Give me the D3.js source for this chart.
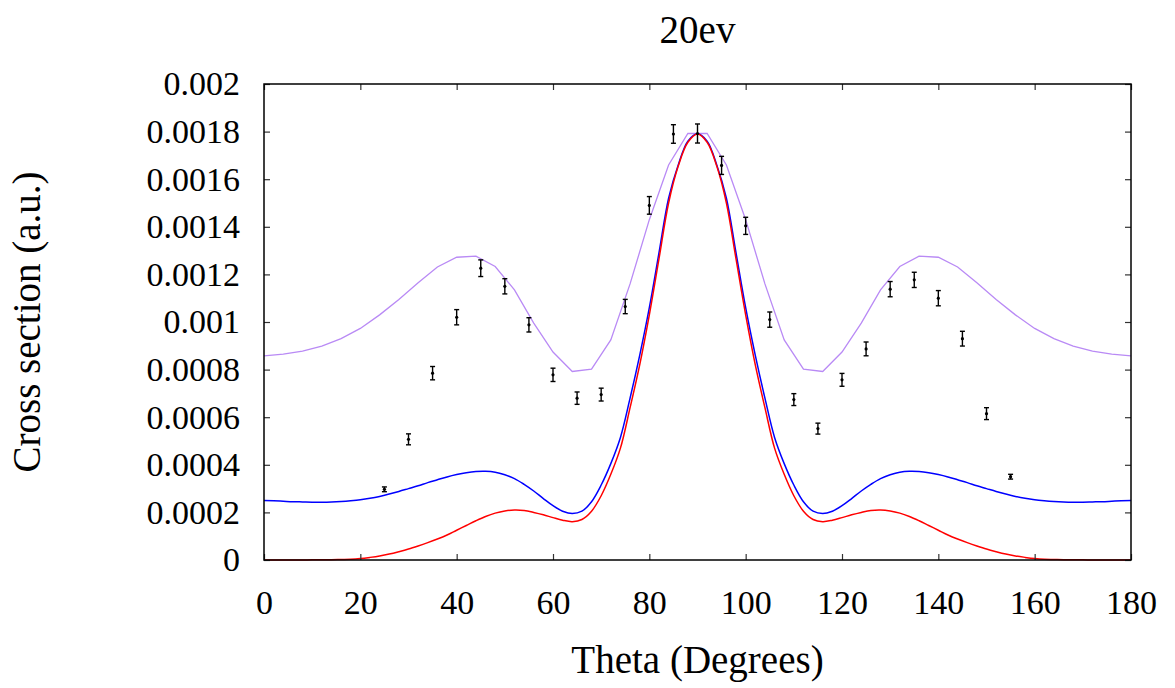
<!DOCTYPE html>
<html>
<head>
<meta charset="utf-8">
<script src="https://cdn.jsdelivr.net/npm/d3@7"></script>
<style>
  body { margin: 0; background: #fff; }
  text { font-family: "Liberation Serif", "DejaVu Serif", serif; fill: #000; }
</style>
</head>
<body>
<div id="chart"></div>
<script>
// measured points (theta, value, error)
var expTheta = [25, 30, 35, 40, 45, 50, 55, 60, 65, 70, 75, 80, 85, 90, 95, 100, 105, 110, 115, 120, 125, 130, 135, 140, 145, 150, 155];
var expValue = [0.000297, 0.000507, 0.000785, 0.00102, 0.001226, 0.00115, 0.000988, 0.000778, 0.00068, 0.000695, 0.001065, 0.00149, 0.00179, 0.001792, 0.001658, 0.001404, 0.00101, 0.000674, 0.000552, 0.000757, 0.000887, 0.001138, 0.001177, 0.0011, 0.00093, 0.000615, 0.00035];
var expError = [0.00001, 0.000023, 0.000028, 0.000032, 0.000035, 0.000032, 0.00003, 0.000028, 0.000026, 0.000027, 0.00003, 0.000037, 0.000039, 0.00004, 0.000038, 0.000036, 0.000032, 0.000025, 0.000023, 0.000027, 0.000029, 0.000032, 0.000032, 0.000032, 0.000031, 0.000025, 0.00001];

// purple curve, 4 degree steps
var purpleTheta = [0, 4, 8, 12, 16, 20, 24, 28, 32, 36, 40, 44, 48, 52, 56, 60, 64, 68, 72, 76, 80, 84, 88,
  92, 96, 100, 104, 108, 112, 116, 120, 124, 128, 132, 136, 140, 144, 148, 152, 156, 160, 164, 168, 172, 176, 180];
var purpleValue = [0.000858, 0.000865, 0.000878, 0.000899, 0.00093, 0.000973, 0.00103, 0.001095, 0.001165, 0.001231, 0.001272, 0.001277, 0.001233, 0.001135, 0.000995, 0.000874, 0.000792, 0.000802, 0.000925, 0.00116, 0.00143, 0.00166, 0.001792,
  0.001792, 0.00166, 0.00143, 0.00116, 0.000925, 0.000802, 0.000792, 0.000874, 0.000995, 0.001135, 0.001233, 0.001277, 0.001272, 0.001231, 0.001165, 0.001095, 0.00103, 0.000973, 0.00093, 0.000899, 0.000878, 0.000865, 0.000858];

// blue and red curves, 2 degree steps
var curveTheta = [0, 2, 4, 6, 8, 10, 12, 14, 16, 18, 20, 22, 24, 26, 28, 30, 32, 34, 36, 38, 40, 42, 44, 46, 48, 50, 52, 54, 56, 58, 60, 62, 64, 66, 68, 70, 72, 74, 76, 78, 80, 82, 84, 86, 88, 90,
  92, 94, 96, 98, 100, 102, 104, 106, 108, 110, 112, 114, 116, 118, 120, 122, 124, 126, 128, 130, 132, 134, 136, 138, 140, 142, 144, 146, 148, 150, 152, 154, 156, 158, 160, 162, 164, 166, 168, 170, 172, 174, 176, 178, 180];
var blueValue = [0.00025, 0.000249, 0.000247, 0.000245, 0.000244, 0.000243, 0.000243, 0.000244, 0.000246, 0.000249, 0.000253, 0.000259, 0.000267, 0.000277, 0.000288, 0.0003, 0.000312, 0.000325, 0.000337, 0.000349, 0.000359, 0.000367, 0.000372, 0.000373, 0.000369, 0.000358, 0.000342, 0.000318, 0.00029, 0.000258, 0.000228, 0.000205, 0.000195, 0.000205, 0.000245, 0.000315, 0.000405, 0.000515, 0.00068, 0.00086, 0.00106, 0.00129, 0.00152, 0.00166, 0.00176, 0.001791,
  0.00176, 0.00166, 0.00152, 0.00129, 0.00106, 0.00086, 0.00068, 0.000515, 0.000405, 0.000315, 0.000245, 0.000205, 0.000195, 0.000205, 0.000228, 0.000258, 0.00029, 0.000318, 0.000342, 0.000358, 0.000369, 0.000373, 0.000372, 0.000367, 0.000359, 0.000349, 0.000337, 0.000325, 0.000312, 0.0003, 0.000288, 0.000277, 0.000267, 0.000259, 0.000253, 0.000249, 0.000246, 0.000244, 0.000243, 0.000243, 0.000244, 0.000245, 0.000247, 0.000249, 0.00025];
var redValue = [0, 0, 0, 0, 0, 0.000001, 0.000001, 0.000001, 0.000002, 0.000003, 0.000006, 0.000011, 0.000017, 0.000025, 0.000035, 0.000046, 0.000059, 0.000073, 0.000088, 0.000105, 0.000125, 0.000145, 0.000165, 0.000183, 0.000197, 0.000206, 0.00021, 0.000208, 0.0002, 0.00019, 0.000178, 0.000167, 0.000161, 0.00017, 0.000205, 0.00027, 0.00036, 0.00047, 0.00064, 0.00082, 0.00103, 0.001265, 0.0015, 0.001655, 0.001755, 0.00179,
  0.001755, 0.001655, 0.0015, 0.001265, 0.00103, 0.00082, 0.00064, 0.00047, 0.00036, 0.00027, 0.000205, 0.00017, 0.000161, 0.000167, 0.000178, 0.00019, 0.0002, 0.000208, 0.00021, 0.000206, 0.000197, 0.000183, 0.000165, 0.000145, 0.000125, 0.000105, 0.000088, 0.000073, 0.000059, 0.000046, 0.000035, 0.000025, 0.000017, 0.000011, 0.000006, 0.000003, 0.000002, 0.000001, 0.000001, 0.000001, 0, 0, 0, 0, 0];

var xTicks = [0, 20, 40, 60, 80, 100, 120, 140, 160, 180];
var yTicks = [0, 0.0002, 0.0004, 0.0006, 0.0008, 0.001, 0.0012, 0.0014, 0.0016, 0.0018, 0.002];

var width = 1175, height = 688;
var margin = {left: 264, right: 44, top: 84, bottom: 128};
var iw = width - margin.left - margin.right;
var ih = height - margin.top - margin.bottom;
var fs = '34px';     // tick labels
var fsLabel = '39px'; // title and axis titles

var svg = d3.select('#chart')
  .append('svg')
  .attr('width', width)
  .attr('height', height);

var x = d3.scaleLinear().domain([0, 180]).range([margin.left, margin.left + iw]);
var y = d3.scaleLinear().domain([0, 0.002]).range([margin.top + ih, margin.top]);

// curves
var purple = purpleTheta.map(function(t, i){ return [t, purpleValue[i]]; });
var blue = curveTheta.map(function(t, i){ return [t, blueValue[i]]; });
var red = curveTheta.map(function(t, i){ return [t, redValue[i]]; });

var lineLin = d3.line().x(function(d){ return x(d[0]); }).y(function(d){ return y(d[1]); });
var lineSmooth = d3.line().curve(d3.curveCatmullRom).x(function(d){ return x(d[0]); }).y(function(d){ return y(d[1]); });

svg.append('path').datum(purple).attr('d', lineLin)
  .attr('fill', 'none').attr('stroke', '#b98af5').attr('stroke-width', 1.3);
svg.append('path').datum(blue).attr('d', lineSmooth)
  .attr('fill', 'none').attr('stroke', '#0000ff').attr('stroke-width', 1.5);
svg.append('path').datum(red).attr('d', lineSmooth)
  .attr('fill', 'none').attr('stroke', '#ff0000').attr('stroke-width', 1.5);

// error bars
var pts = expTheta.map(function(t, i){ return {t: t, v: expValue[i], e: expError[i]}; });
var g = svg.append('g').attr('stroke', '#000').attr('stroke-width', 1.4);
g.selectAll('line.bar').data(pts).enter().append('line')
  .attr('class', 'bar')
  .attr('x1', function(d){ return x(d.t); }).attr('x2', function(d){ return x(d.t); })
  .attr('y1', function(d){ return y(d.v - d.e); }).attr('y2', function(d){ return y(d.v + d.e); });
g.selectAll('line.capTop').data(pts).enter().append('line')
  .attr('class', 'capTop')
  .attr('x1', function(d){ return x(d.t) - 2.5; }).attr('x2', function(d){ return x(d.t) + 2.5; })
  .attr('y1', function(d){ return y(d.v + d.e); }).attr('y2', function(d){ return y(d.v + d.e); });
g.selectAll('line.capBot').data(pts).enter().append('line')
  .attr('class', 'capBot')
  .attr('x1', function(d){ return x(d.t) - 2.5; }).attr('x2', function(d){ return x(d.t) + 2.5; })
  .attr('y1', function(d){ return y(d.v - d.e); }).attr('y2', function(d){ return y(d.v - d.e); });
svg.selectAll('circle.pt').data(pts).enter().append('circle')
  .attr('class', 'pt')
  .attr('cx', function(d){ return x(d.t); })
  .attr('cy', function(d){ return y(d.v); })
  .attr('r', 1.6)
  .attr('fill', '#000');

// axes, gnuplot style: ticks inside on all sides
var tk = 6;
svg.append('g').attr('transform', 'translate(0,' + (margin.top + ih) + ')')
  .call(d3.axisBottom(x).tickValues(xTicks).tickSize(-tk).tickPadding(30).tickFormat(d3.format('d')))
  .call(function(a){ a.select('.domain').remove(); });
svg.append('g').attr('transform', 'translate(0,' + margin.top + ')')
  .call(d3.axisTop(x).tickValues(xTicks).tickSize(-tk).tickFormat(''))
  .call(function(a){ a.select('.domain').remove(); });
svg.append('g').attr('transform', 'translate(' + margin.left + ',0)')
  .call(d3.axisLeft(y).tickValues(yTicks).tickSize(-tk).tickPadding(24).tickFormat(function(d){ return d === 0 ? '0' : d3.format('.4~f')(d); }))
  .call(function(a){ a.select('.domain').remove(); });
svg.append('g').attr('transform', 'translate(' + (margin.left + iw) + ',0)')
  .call(d3.axisRight(y).tickValues(yTicks).tickSize(-tk).tickFormat(''))
  .call(function(a){ a.select('.domain').remove(); });

svg.selectAll('.tick line').attr('stroke', '#333').attr('stroke-width', 1.2);
svg.selectAll('.tick text')
  .style('font-family', '"Liberation Serif", serif')
  .style('font-size', fs)
  .attr('fill', '#000');

svg.append('rect')
  .attr('x', margin.left).attr('y', margin.top)
  .attr('width', iw).attr('height', ih)
  .attr('fill', 'none').attr('stroke', '#000').attr('stroke-width', 1.5);

// titles
svg.append('text').text('20ev')
  .attr('x', margin.left + iw / 2).attr('y', 43)
  .attr('text-anchor', 'middle').style('font-size', fsLabel);
svg.append('text').text('Theta (Degrees)')
  .attr('x', margin.left + iw / 2).attr('y', 673)
  .attr('text-anchor', 'middle').style('font-size', fsLabel);
svg.append('text').text('Cross section (a.u.)')
  .attr('transform', 'translate(40,' + (margin.top + ih / 2) + ') rotate(-90)')
  .attr('text-anchor', 'middle').style('font-size', fsLabel);
</script>
</body>
</html>
